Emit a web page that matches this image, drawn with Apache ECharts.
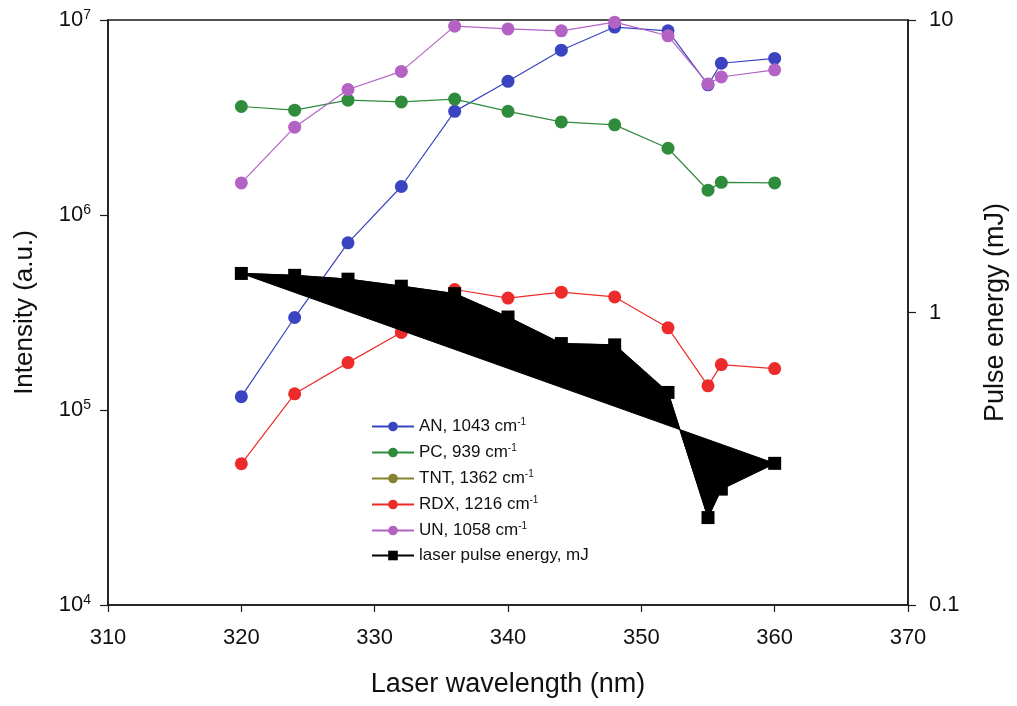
<!DOCTYPE html>
<html>
<head>
<meta charset="utf-8">
<script src="https://cdn.jsdelivr.net/npm/echarts@6/dist/echarts.min.js"></script>
<style>
  html, body { margin: 0; padding: 0; background: #fff; }
  #chart { width: 1017px; height: 706px; }
</style>
</head>
<body>
<div id="chart"></div>
<script>
// wavelengths (nm) shared by every series
var wavelength = [320, 324, 328, 332, 336, 340, 344, 348, 352, 355, 356, 360];

// Raman intensity (a.u.), left log axis
var anData  = [1.17e5, 2.98e5, 7.2e5, 1.40e6, 3.40e6, 4.85e6, 7.0e6, 9.2e6, 8.8e6, 4.65e6, 6.0e6, 6.35e6];
var pcData  = [3.6e6, 3.45e6, 3.88e6, 3.8e6, 3.93e6, 3.4e6, 3.0e6, 2.9e6, 2.2e6, 1.34e6, 1.47e6, 1.46e6];
var tntData = [];
var rdxData = [5.3e4, 1.21e5, 1.75e5, 2.5e5, 4.15e5, 3.75e5, 4.02e5, 3.8e5, 2.64e5, 1.33e5, 1.71e5, 1.63e5];
var unData  = [1.46e6, 2.82e6, 4.4e6, 5.45e6, 9.3e6, 9.0e6, 8.8e6, 9.75e6, 8.3e6, 4.7e6, 5.1e6, 5.55e6];

// laser pulse energy (mJ), right log axis
var laserEnergy = [1.36, 1.34, 1.30, 1.23, 1.16, 0.965, 0.783, 0.775, 0.533, 0.199, 0.249, 0.305];

var seriesNames = ['AN', 'PC', 'TNT', 'RDX', 'UN', 'laser'];
var legendText = {
  AN: ['AN, 1043 cm', '-1'],
  PC: ['PC, 939 cm', '-1'],
  TNT: ['TNT, 1362 cm', '-1'],
  RDX: ['RDX, 1216 cm', '-1'],
  UN: ['UN, 1058 cm', '-1'],
  laser: ['laser pulse energy, mJ', '']
};
var colors = ['#3a44c0', '#2f8c3c', '#84842e', '#ee2b2b', '#b462c4', '#000000'];

function pairs(ys) {
  var out = [];
  for (var i = 0; i < ys.length; i++) {
    out.push([wavelength[i], ys[i]]);
  }
  return out;
}

function dotSeries(name, ys, color) {
  return {
    name: name,
    type: 'line',
    data: pairs(ys),
    symbol: 'circle',
    symbolSize: 13,
    showSymbol: true,
    z: 2,
    itemStyle: { color: color },
    lineStyle: { color: color, width: 1.2 }
  };
}

var labelFont = 'Liberation Sans, Arial, sans-serif';

var option = {
  animation: false,
  color: colors,
  textStyle: { fontFamily: labelFont },
  grid: {
    left: 108, right: 106, top: 20, bottom: 101,
    show: true, borderColor: '#1a1a1a', borderWidth: 1.5, backgroundColor: 'transparent'
  },
  legend: {
    orient: 'vertical',
    left: 366,
    top: 412,
    itemWidth: 42,
    itemHeight: 12,
    itemGap: 8,
    data: seriesNames,
    formatter: function (name) {
      var t = legendText[name];
      return '{n|' + t[0] + '}' + (t[1] ? '{s|' + t[1] + '}' : '');
    },
    textStyle: {
      color: '#111',
      fontFamily: labelFont,
      rich: {
        n: { fontSize: 17, lineHeight: 19, fontFamily: labelFont, color: '#111' },
        s: { fontSize: 10, lineHeight: 19, verticalAlign: 'top', fontFamily: labelFont, color: '#111' }
      }
    }
  },
  xAxis: {
    type: 'value',
    min: 310,
    max: 370,
    interval: 10,
    name: 'Laser wavelength (nm)',
    nameLocation: 'middle',
    nameGap: 66,
    nameTextStyle: { fontSize: 27, color: '#111', fontFamily: labelFont },
    axisLine: { show: true, lineStyle: { color: '#1a1a1a', width: 1.5 } },
    axisTick: { show: true, inside: false, length: 7, lineStyle: { color: '#1a1a1a', width: 1.2 } },
    axisLabel: { fontSize: 22, color: '#111', margin: 22, fontFamily: labelFont },
    splitLine: { show: false }
  },
  yAxis: [
    {
      type: 'log',
      logBase: 10,
      min: 1e4,
      max: 1e7,
      position: 'left',
      name: 'Intensity (a.u.)',
      nameLocation: 'middle',
      nameGap: 70,
      nameTextStyle: { fontSize: 26, color: '#111', fontFamily: labelFont },
      axisLine: { show: true, lineStyle: { color: '#1a1a1a', width: 1.5 } },
      axisTick: { show: true, inside: false, length: 8, lineStyle: { color: '#1a1a1a', width: 1.2 } },
      axisLabel: {
        margin: 17,
        formatter: function (v) {
          var e = Math.round(Math.log(v) / Math.LN10);
          return '{b|10}{e|' + e + '}';
        },
        rich: {
          b: { fontSize: 22, lineHeight: 24, color: '#111', fontFamily: labelFont },
          e: { fontSize: 14, lineHeight: 24, verticalAlign: 'top', color: '#111', fontFamily: labelFont }
        }
      },
      splitLine: { show: false }
    },
    {
      type: 'log',
      logBase: 10,
      min: 0.1,
      max: 10,
      position: 'right',
      name: 'Pulse energy (mJ)',
      nameLocation: 'middle',
      nameGap: 74,
      nameTextStyle: { fontSize: 27, color: '#111', fontFamily: labelFont },
      axisLine: { show: true, lineStyle: { color: '#1a1a1a', width: 1.5 } },
      axisTick: { show: true, inside: false, length: 8, lineStyle: { color: '#1a1a1a', width: 1.2 } },
      axisLabel: {
        margin: 21,
        fontSize: 22,
        color: '#111',
        fontFamily: labelFont,
        formatter: function (v) {
          return v >= 1 ? String(Math.round(v)) : String(+v.toPrecision(2));
        }
      },
      splitLine: { show: false }
    }
  ],
  series: [
    dotSeries('AN', anData, colors[0]),
    dotSeries('PC', pcData, colors[1]),
    dotSeries('TNT', tntData, colors[2]),
    dotSeries('RDX', rdxData, colors[3]),
    dotSeries('UN', unData, colors[4]),
    {
      // filled outline of the pulse energy curve, closed between first and last point
      type: 'custom',
      yAxisIndex: 1,
      silent: true,
      z: 4,
      data: [[wavelength[0], laserEnergy[0]]],
      renderItem: function (params, api) {
        var pts = [];
        for (var i = 0; i < wavelength.length; i++) {
          pts.push(api.coord([wavelength[i], laserEnergy[i]]));
        }
        return { type: 'polygon', shape: { points: pts }, style: { fill: '#000', stroke: '#000', lineWidth: 1 } };
      }
    },
    {
      name: 'laser',
      type: 'line',
      yAxisIndex: 1,
      data: pairs(laserEnergy),
      symbol: 'rect',
      symbolSize: 13,
      z: 5,
      itemStyle: { color: '#000' },
      lineStyle: { color: '#000', width: 1.2 }
    }
  ]
};

var chart = echarts.init(document.getElementById('chart'));
chart.setOption(option);
</script>
</body>
</html>
